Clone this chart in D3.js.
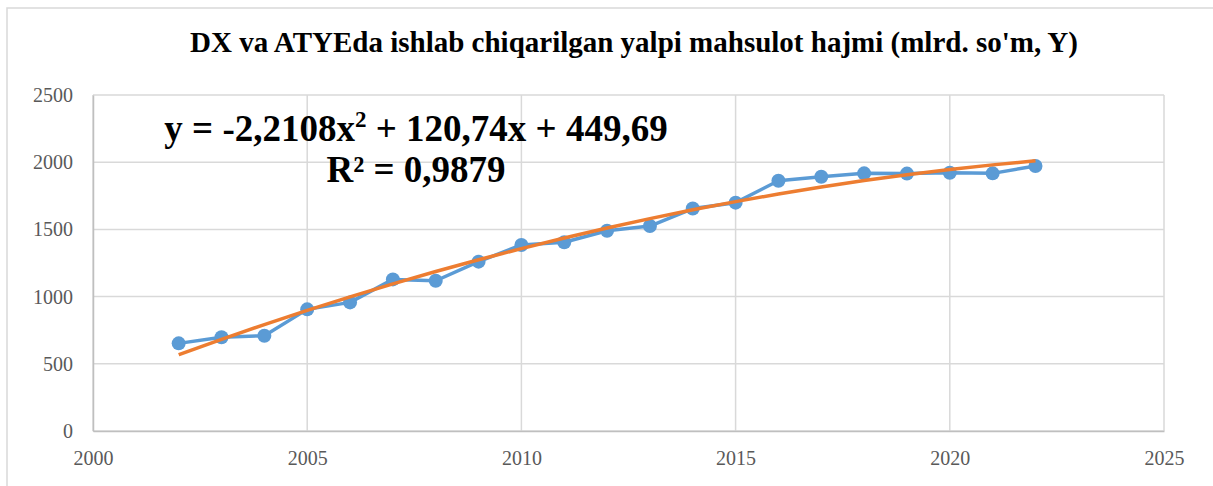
<!DOCTYPE html>
<html>
<head>
<meta charset="utf-8">
<script src="https://cdn.jsdelivr.net/npm/d3@7"></script>
<style>
  body { margin: 0; background: #fff; }
  text { font-family: "Liberation Serif", "Times New Roman", serif; }
</style>
</head>
<body>
<div id="datavis"></div>
<script>
let width = 1213,
    height = 486

let margin = {top: 95, right: 49, bottom: 55, left: 93}

let svg = d3.select('#datavis')
  .append('svg')
    .attr('width', width)
    .attr('height', height)

// outer chart border
svg.append('rect')
  .attr('x', 7).attr('y', 8)
  .attr('width', width + 10).attr('height', height + 10)
  .attr('fill', 'none')
  .attr('stroke', '#d9d9d9')
  .attr('stroke-width', 1.5)

// yearly values (mlrd. so'm)
let data = [
  {year: 2002, value: 652},
  {year: 2003, value: 697},
  {year: 2004, value: 709},
  {year: 2005, value: 905},
  {year: 2006, value: 957},
  {year: 2007, value: 1128},
  {year: 2008, value: 1118},
  {year: 2009, value: 1260},
  {year: 2010, value: 1384},
  {year: 2011, value: 1404},
  {year: 2012, value: 1490},
  {year: 2013, value: 1525},
  {year: 2014, value: 1655},
  {year: 2015, value: 1699},
  {year: 2016, value: 1862},
  {year: 2017, value: 1892},
  {year: 2018, value: 1917},
  {year: 2019, value: 1915},
  {year: 2020, value: 1922},
  {year: 2021, value: 1917},
  {year: 2022, value: 1972}
]

// polynomial trend: y = -2,2108x^2 + 120,74x + 449,69  (x = 1..n)
let trend = data.map((d, i) => {
  let x = i + 1
  return {year: d.year, value: -2.2108 * x * x + 120.74 * x + 449.69}
})

let x = d3.scaleLinear()
  .domain([2000, 2025])
  .range([margin.left, width - margin.right])

let y = d3.scaleLinear()
  .domain([0, 2500])
  .range([height - margin.bottom, margin.top])

// gridlines
let grid = svg.append('g')
grid.selectAll('hgrid')
  .data(y.ticks(5))
  .enter()
  .append('line')
    .attr('x1', x(2000)).attr('x2', x(2025))
    .attr('y1', d => y(d)).attr('y2', d => y(d))
    .attr('stroke', '#d9d9d9')
    .attr('stroke-width', 1.5)
grid.selectAll('vgrid')
  .data(x.ticks(5))
  .enter()
  .append('line')
    .attr('x1', d => x(d)).attr('x2', d => x(d))
    .attr('y1', y(0)).attr('y2', y(2500))
    .attr('stroke', '#d9d9d9')
    .attr('stroke-width', 1.5)

// axes
let xAxis = svg.append('g')
  .attr('transform', `translate(0,${y(0)})`)
  .call(d3.axisBottom(x).ticks(5).tickSize(0).tickPadding(20).tickFormat(d3.format('d')))
xAxis.select('.domain').attr('stroke', '#bfbfbf').attr('stroke-width', 1.5)

let yAxis = svg.append('g')
  .attr('transform', `translate(${x(2000)},0)`)
  .call(d3.axisLeft(y).ticks(5).tickSize(0).tickPadding(20).tickFormat(d3.format('d')))
yAxis.select('.domain').attr('stroke', '#bfbfbf').attr('stroke-width', 1.5)

svg.selectAll('.tick text')
  .style('font-family', '"Liberation Serif", serif')
  .style('font-size', '20px')
  .attr('fill', '#595959')

// data line
let line = d3.line()
  .x(d => x(d.year))
  .y(d => y(d.value))

svg.append('path')
  .datum(data)
  .attr('d', line)
  .attr('fill', 'none')
  .attr('stroke', '#5b9bd5')
  .attr('stroke-width', 3.5)
  .attr('stroke-linejoin', 'round')

svg.selectAll('allDots')
  .data(data)
  .enter()
  .append('circle')
    .attr('cx', d => x(d.year))
    .attr('cy', d => y(d.value))
    .attr('r', 7)
    .attr('fill', '#5b9bd5')

// trend line
svg.append('path')
  .datum(trend)
  .attr('d', line.curve(d3.curveMonotoneX))
  .attr('fill', 'none')
  .attr('stroke', '#ed7d31')
  .attr('stroke-width', 3.5)

// title
svg.append('text')
  .attr('x', 634)
  .attr('y', 52)
  .attr('text-anchor', 'middle')
  .style('font-size', '29px')
  .style('font-weight', 'bold')
  .text("DX va ATYEda ishlab chiqarilgan yalpi mahsulot hajmi (mlrd. so'm, Y)")

// equation label
let eq = svg.append('text')
  .attr('x', 416)
  .attr('y', 141)
  .attr('text-anchor', 'middle')
  .style('font-size', '37px')
  .style('font-weight', 'bold')
eq.append('tspan').text('y = -2,2108x')
eq.append('tspan').text('2').attr('dy', -14).style('font-size', '23px')
eq.append('tspan').text(' + 120,74x + 449,69').attr('dy', 14)

svg.append('text')
  .attr('x', 416)
  .attr('y', 182)
  .attr('text-anchor', 'middle')
  .style('font-size', '37px')
  .style('font-weight', 'bold')
  .text('R² = 0,9879')
</script>
</body>
</html>
